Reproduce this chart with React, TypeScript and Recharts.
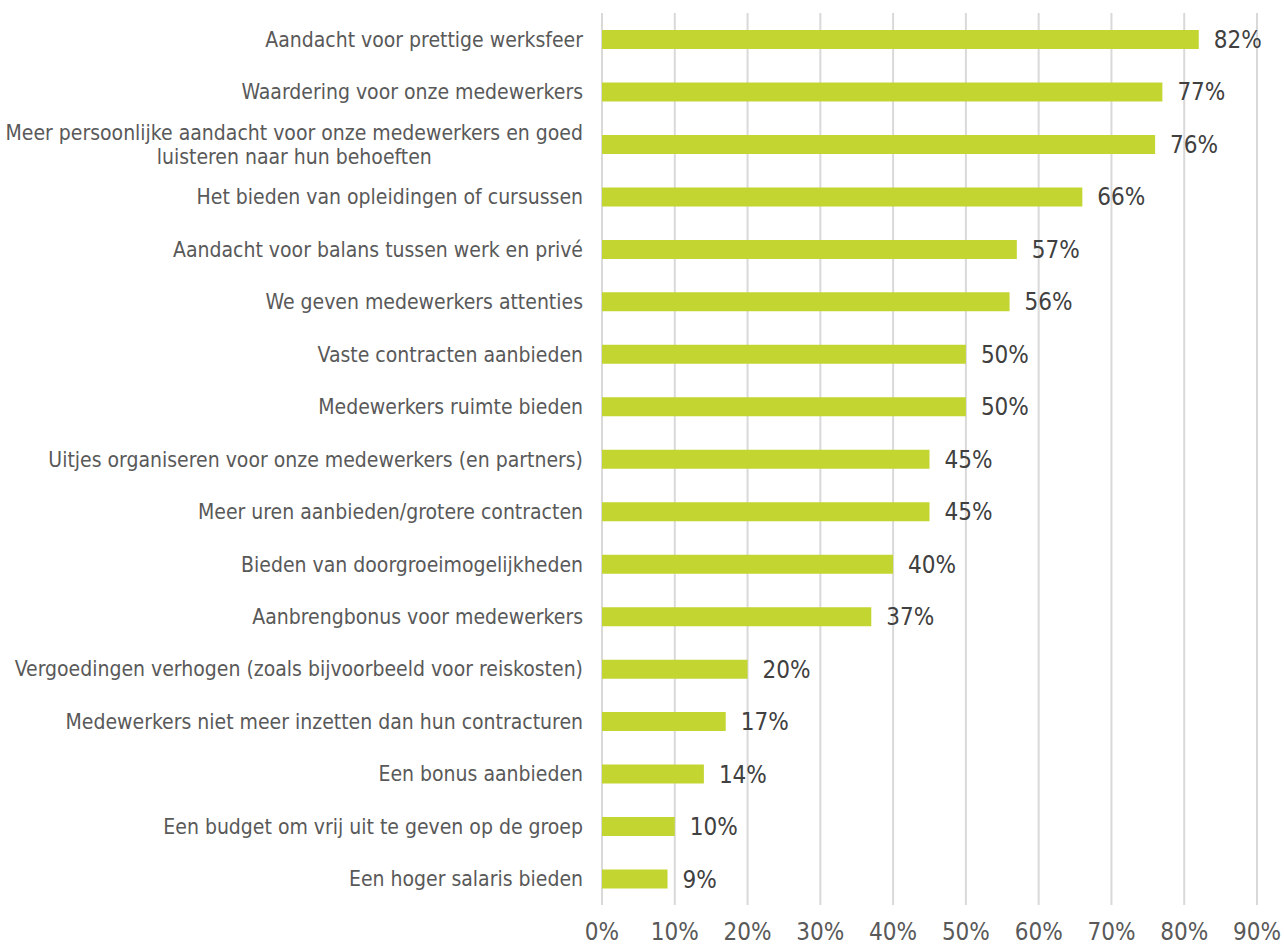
import React from 'react';
import { BarChart, Bar, XAxis, YAxis, CartesianGrid, LabelList } from 'recharts';

const categories: string[] = [
  'Aandacht voor prettige werksfeer',
  'Waardering voor onze medewerkers',
  'Meer persoonlijke aandacht voor onze medewerkers en goed\nluisteren naar hun behoeften',
  'Het bieden van opleidingen of cursussen',
  'Aandacht voor balans tussen werk en privé',
  'We geven medewerkers attenties',
  'Vaste contracten aanbieden',
  'Medewerkers ruimte bieden',
  'Uitjes organiseren voor onze medewerkers (en partners)',
  'Meer uren aanbieden/grotere contracten',
  'Bieden van doorgroeimogelijkheden',
  'Aanbrengbonus voor medewerkers',
  'Vergoedingen verhogen (zoals bijvoorbeeld voor reiskosten)',
  'Medewerkers niet meer inzetten dan hun contracturen',
  'Een bonus aanbieden',
  'Een budget om vrij uit te geven op de groep',
  'Een hoger salaris bieden',
];

const values: number[] = [82, 77, 76, 66, 57, 56, 50, 50, 45, 45, 40, 37, 20, 17, 14, 10, 9];

const xTicks: number[] = [0, 10, 20, 30, 40, 50, 60, 70, 80, 90];

const data = categories.map((c, i) => ({ name: c, value: values[i] }));

const FONT = "'DejaVu Sans Condensed', 'DejaVu Sans', sans-serif";
const CAT_SIZE = 21;
const NUM_SIZE = 24;

let ctx: CanvasRenderingContext2D | null = null;
function measure(text: string): number {
  if (typeof document === 'undefined') return text.length * 9;
  if (!ctx) {
    const c = document.createElement('canvas');
    ctx = c.getContext('2d');
  }
  if (!ctx) return text.length * 9;
  ctx.font = `${CAT_SIZE}px ${FONT}`;
  try {
    (ctx as any).fontStretch = 'condensed';
  } catch (e) {}
  return ctx.measureText(text).width;
}

const CategoryTick = (props: any) => {
  const { x, y, payload } = props;
  const lines: string[] = String(payload.value).split('\n');
  const right = x - 19;
  const base = CAT_SIZE * 0.36;
  if (lines.length === 1) {
    return (
      <text
        x={right}
        y={y + base}
        textAnchor="end"
        fill="#595959"
        style={{ fontFamily: FONT, fontSize: CAT_SIZE, fontStretch: 'condensed' }}
      >
        {lines[0]}
      </text>
    );
  }
  const w1 = measure(lines[0]);
  const cx = right - w1 / 2;
  const step = 24;
  const start = -((lines.length - 1) * step) / 2;
  return (
    <g>
      {lines.map((l, i) => (
        <text
          key={i}
          x={cx}
          y={y + start + i * step + base}
          textAnchor="middle"
          fill="#595959"
          style={{ fontFamily: FONT, fontSize: CAT_SIZE, fontStretch: 'condensed' }}
        >
          {l}
        </text>
      ))}
    </g>
  );
};

const PercentTick = (props: any) => {
  const { x, y, payload } = props;
  return (
    <text
      x={x}
      y={y + 35}
      textAnchor="middle"
      fill="#595959"
      style={{ fontFamily: FONT, fontSize: NUM_SIZE, fontStretch: 'condensed' }}
    >
      {`${payload.value}%`}
    </text>
  );
};

export default function App() {
  return (
    <div style={{ position: 'absolute', left: 0, top: 0, background: '#fff' }}>
      <BarChart
        width={1284}
        height={946}
        data={data}
        layout="vertical"
        margin={{ top: 13, right: 27, bottom: 0, left: 0 }}
      >
        <CartesianGrid horizontal={false} vertical={true} stroke="#d9d9d9" strokeWidth={2} />
        <XAxis
          type="number"
          domain={[0, 90]}
          ticks={xTicks}
          interval={0}
          axisLine={false}
          tickLine={false}
          tickSize={0}
          tickMargin={0}
          height={41}
          tick={<PercentTick />}
        />
        <YAxis
          type="category"
          dataKey="name"
          width={602}
          axisLine={false}
          tickLine={false}
          tickSize={0}
          tickMargin={0}
          interval={0}
          tick={<CategoryTick />}
        />
        <Bar dataKey="value" fill="#c2d531" barSize={19} isAnimationActive={false}>
          <LabelList
            dataKey="value"
            position="right"
            offset={15}
            formatter={(v: any) => `${v}%`}
            fill="#404040"
            style={{ fontFamily: FONT, fontSize: NUM_SIZE, fontStretch: 'condensed' }}
          />
        </Bar>
      </BarChart>
    </div>
  );
}
